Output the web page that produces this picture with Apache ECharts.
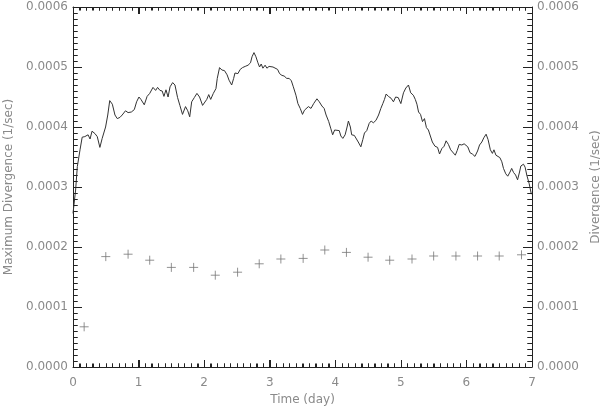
<!DOCTYPE html>
<html>
<head>
<meta charset="utf-8">
<script src="https://cdn.jsdelivr.net/npm/echarts@6/dist/echarts.min.js"></script>
<style>
html,body{margin:0;padding:0;background:#fff;}
#chart{width:600px;height:408px;}
</style>
</head>
<body>
<div id="chart"></div>
<script>
// Time (day) of the continuous maximum-divergence curve
var lineDays = [0.00,0.04,0.066,0.107,0.14,0.18,0.21,0.23,0.26,0.29,0.335,0.37,0.41,0.445,0.497,0.53,0.56,0.60,0.64,0.675,0.716,0.75,0.77,0.80,0.84,0.89,0.935,0.97,1.006,1.036,1.087,1.13,1.17,1.22,1.26,1.29,1.326,1.36,1.387,1.418,1.45,1.48,1.52,1.555,1.595,1.63,1.67,1.716,1.75,1.78,1.81,1.85,1.89,1.93,1.976,2.006,2.04,2.07,2.10,2.14,2.18,2.20,2.235,2.27,2.31,2.35,2.38,2.42,2.45,2.47,2.515,2.55,2.585,2.626,2.67,2.707,2.73,2.76,2.79,2.82,2.845,2.87,2.896,2.93,2.957,2.99,3.02,3.05,3.08,3.12,3.15,3.186,3.22,3.26,3.297,3.33,3.36,3.40,3.43,3.465,3.50,3.53,3.55,3.59,3.63,3.67,3.72,3.756,3.796,3.83,3.86,3.90,3.93,3.96,3.99,4.02,4.06,4.085,4.115,4.15,4.18,4.20,4.23,4.25,4.29,4.32,4.35,4.39,4.42,4.445,4.48,4.517,4.547,4.58,4.62,4.66,4.695,4.725,4.75,4.776,4.81,4.85,4.887,4.92,4.96,5.00,5.04,5.076,5.116,5.15,5.19,5.22,5.245,5.27,5.30,5.33,5.36,5.39,5.42,5.45,5.48,5.52,5.56,5.59,5.625,5.66,5.69,5.725,5.76,5.79,5.83,5.86,5.89,5.93,5.965,5.995,6.02,6.056,6.09,6.13,6.17,6.20,6.235,6.265,6.30,6.33,6.365,6.396,6.42,6.45,6.48,6.51,6.54,6.565,6.60,6.63,6.665,6.69,6.72,6.75,6.78,6.81,6.83,6.87,6.895,6.92,6.956,6.99];
// Maximum divergence (1/sec)
var lineValues = [0.000256,0.000295,0.000334,0.000362,0.000383,0.000384,0.000382,0.000387,0.000380,0.000393,0.000389,0.000384,0.000366,0.000381,0.000400,0.000420,0.000444,0.000438,0.000420,0.000414,0.000416,0.000420,0.000417,0.000427,0.000424,0.000425,0.000429,0.000442,0.000450,0.000446,0.000437,0.000451,0.000456,0.000466,0.000461,0.000466,0.000461,0.000460,0.000451,0.000462,0.000450,0.000467,0.000474,0.000470,0.000449,0.000436,0.000421,0.000434,0.000427,0.000417,0.000442,0.000449,0.000456,0.000450,0.000436,0.000435,0.000446,0.000454,0.000446,0.000456,0.000464,0.000481,0.000499,0.000495,0.000494,0.000487,0.000478,0.000470,0.000481,0.000490,0.000489,0.000496,0.000499,0.000501,0.000503,0.000507,0.000517,0.000524,0.000517,0.000507,0.000500,0.000505,0.000498,0.000503,0.000498,0.000501,0.000498,0.000500,0.000498,0.000496,0.000489,0.000486,0.000485,0.000481,0.000481,0.000477,0.000467,0.000453,0.000439,0.000431,0.000421,0.000428,0.000431,0.000434,0.000431,0.000439,0.000447,0.000442,0.000435,0.000431,0.000420,0.000409,0.000398,0.000387,0.000395,0.000392,0.000394,0.000385,0.000381,0.000387,0.000400,0.000410,0.000400,0.000387,0.000386,0.000384,0.000375,0.000367,0.000379,0.000390,0.000394,0.000406,0.000410,0.000407,0.000411,0.000420,0.000431,0.000439,0.000446,0.000455,0.000451,0.000448,0.000442,0.000450,0.000449,0.000439,0.000457,0.000465,0.000470,0.000457,0.000453,0.000446,0.000438,0.000425,0.000421,0.000409,0.000414,0.000399,0.000395,0.000394,0.000375,0.000368,0.000366,0.000355,0.000364,0.000368,0.000377,0.000371,0.000362,0.000359,0.000353,0.000361,0.000371,0.000370,0.000372,0.000373,0.000367,0.000357,0.000355,0.000351,0.000360,0.000370,0.000375,0.000382,0.000388,0.000379,0.000362,0.000356,0.000362,0.000353,0.000356,0.000349,0.000342,0.000331,0.000322,0.000318,0.000325,0.000331,0.000324,0.000320,0.000312,0.000325,0.000335,0.000338,0.000333,0.000320,0.000306,0.000288];
// Time (day) of the sampled divergence points (+ markers)
var pointDays = [0.17,0.5,0.84,1.17,1.5,1.84,2.17,2.51,2.84,3.17,3.51,3.84,4.17,4.5,4.83,5.17,5.5,5.84,6.17,6.5,6.84];
// Divergence (1/sec)
var pointValues = [0.000067,0.000184,0.000188,0.000178,0.000166,0.000166,0.000153,0.000158,0.000172,0.000180,0.000181,0.000195,0.000191,0.000183,0.000178,0.000180,0.000185,0.000185,0.000185,0.000185,0.000187];
// Axis tick labels
var xTicks = [0,1,2,3,4,5,6,7];
var yTicks = ['0.0000','0.0001','0.0002','0.0003','0.0004','0.0005','0.0006'];

var font = 'DejaVu Sans';
var textColor = '#8a8a8a';
var axisColor = '#222';
var X_MIN = 0, X_MAX = 7, Y_MIN = 0, Y_MAX = 0.0006;
var MINOR = 10; // minor divisions per major interval

function xAxisCfg(pos, showLabel) {
  return {
    type: 'value', position: pos, min: X_MIN, max: X_MAX, interval: 1,
    axisLine: {show: true, onZero: false, lineStyle: {color: axisColor, width: 1}},
    axisTick: {show: true, inside: true, length: 7, lineStyle: {color: axisColor}},
    minorTick: {show: true, splitNumber: MINOR, length: 3.5, lineStyle: {color: axisColor}},
    splitLine: {show: false},
    axisLabel: {show: showLabel, margin: 10, color: textColor, fontFamily: font, fontSize: 12,
      formatter: function (v) { return String(xTicks[Math.round(v)]); }},
    name: showLabel ? 'Time (day)' : '',
    nameLocation: 'middle', nameGap: 26,
    nameTextStyle: {color: textColor, fontFamily: font, fontSize: 12}
  };
}
function yAxisCfg(pos, name, gap) {
  return {
    type: 'value', position: pos, min: Y_MIN, max: Y_MAX, interval: 0.0001,
    axisLine: {show: true, onZero: false, lineStyle: {color: axisColor, width: 1}},
    axisTick: {show: true, inside: true, length: 9, lineStyle: {color: axisColor}},
    minorTick: {show: true, splitNumber: MINOR, length: 4.5, lineStyle: {color: axisColor}},
    splitLine: {show: false},
    axisLabel: {margin: 5, color: textColor, fontFamily: font, fontSize: 12,
      formatter: function (v) { return yTicks[Math.round(v / 0.0001)]; }},
    name: name, nameLocation: 'middle', nameRotate: 90, nameGap: gap,
    nameTextStyle: {color: textColor, fontFamily: font, fontSize: 12}
  };
}

var lineData = lineDays.map(function (d, i) { return [d, lineValues[i]]; });
var pointData = pointDays.map(function (d, i) { return [d, pointValues[i]]; });

var chart = echarts.init(document.getElementById('chart'), null, {renderer: 'canvas'});
chart.setOption({
  animation: false,
  backgroundColor: '#fff',
  grid: {left: 73, right: 68, top: 7, bottom: 41, containLabel: false, outerBoundsMode: 'none'},
  xAxis: [xAxisCfg('bottom', true), xAxisCfg('top', false)],
  yAxis: [yAxisCfg('left', 'Maximum Divergence (1/sec)', 51), yAxisCfg('right', 'Divergence (1/sec)', 47)],
  series: [
    {
      type: 'line', xAxisIndex: 0, yAxisIndex: 0, data: lineData,
      showSymbol: false, symbol: 'none',
      lineStyle: {color: '#333', width: 1}
    },
    {
      type: 'scatter', xAxisIndex: 0, yAxisIndex: 1, data: pointData,
      symbol: 'path://M0,5L10,5M5,0L5,10', symbolSize: 9,
      itemStyle: {color: 'none', borderColor: '#777', borderWidth: 1}
    }
  ]
});

// Tick marks drawn on a layer above the plot, positioned through the chart's own axis scales
function px(v) { return Math.round(v) + 0.5; }
var finder = {xAxisIndex: 0, yAxisIndex: 0};
var tickEls = [];
function addLine(x1, y1, x2, y2) {
  tickEls.push({type: 'line', silent: true, z: 100, zlevel: 1,
    shape: {x1: x1, y1: y1, x2: x2, y2: y2},
    style: {stroke: axisColor, lineWidth: 1}});
}
for (var i = 0; i < xTicks.length; i++) {
  for (var k = 0; k < MINOR; k++) {
    if (i === xTicks.length - 1 && k > 0) break;
    var xv = xTicks[i] + k / MINOR;
    var len = k === 0 ? 7 : 3.5;
    var b = chart.convertToPixel(finder, [xv, Y_MIN]);
    var t = chart.convertToPixel(finder, [xv, Y_MAX]);
    var x = px(b[0]);
    addLine(x, b[1], x, b[1] - len);
    addLine(x, t[1], x, t[1] + len);
  }
}
for (var j = 0; j < yTicks.length; j++) {
  for (var m = 0; m < MINOR; m++) {
    if (j === yTicks.length - 1 && m > 0) break;
    var yv = parseFloat(yTicks[j]) + m * 0.0001 / MINOR;
    var ylen = m === 0 ? 9 : 4.5;
    var l = chart.convertToPixel(finder, [X_MIN, yv]);
    var r = chart.convertToPixel(finder, [X_MAX, yv]);
    var y = px(l[1]);
    addLine(l[0], y, l[0] + ylen, y);
    addLine(r[0], y, r[0] - ylen, y);
  }
}
chart.setOption({graphic: {elements: tickEls}});
</script>
</body>
</html>
